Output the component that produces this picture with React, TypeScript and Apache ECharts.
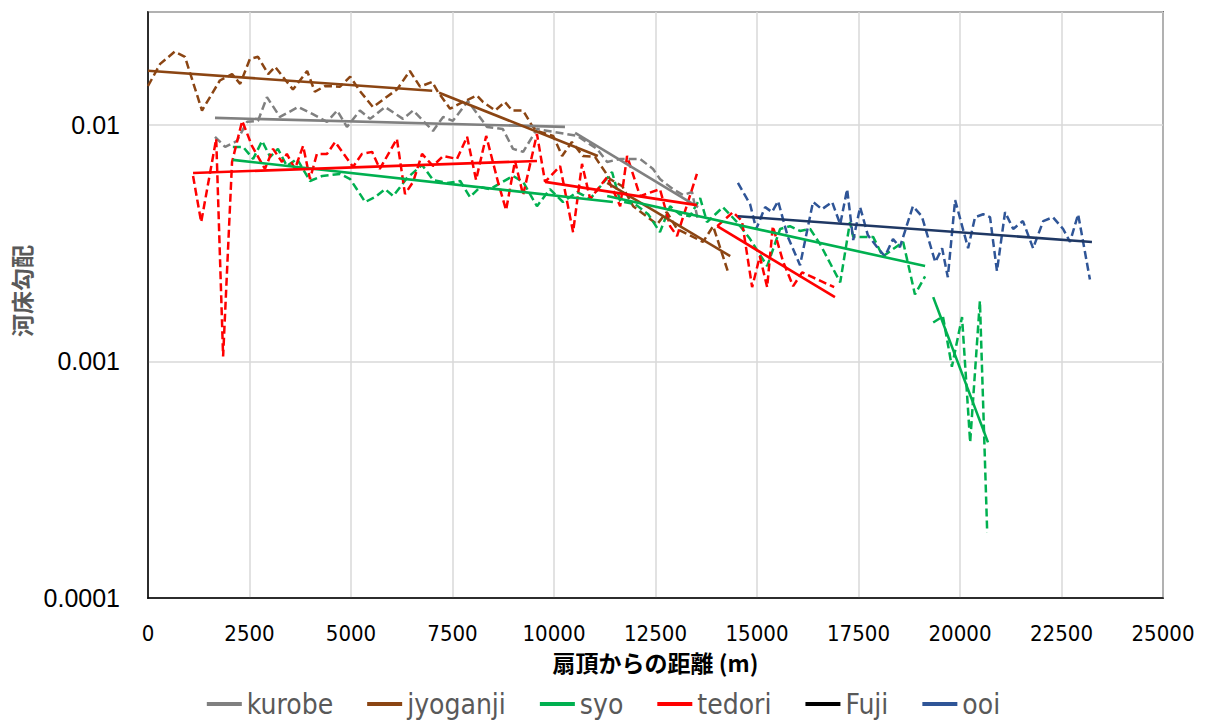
import React, { useEffect, useRef } from "react";
import * as echarts from "echarts";

// Longitudinal bed-slope profiles of alluvial fans (distance from fan apex, m)
const kurobeProfile: [number, number][] = [
  [1650, 0.0089], [1900, 0.00807], [2190, 0.00855], [2440, 0.0103], [2710, 0.0104],
  [2930, 0.0131], [3250, 0.0108], [3700, 0.0119], [4060, 0.0111], [4410, 0.0103],
  [4660, 0.0115], [4900, 0.0098], [5220, 0.0115], [5470, 0.0106], [5840, 0.0119],
  [6280, 0.0106], [6530, 0.0115], [7020, 0.00943], [7270, 0.0108], [7510, 0.0104],
  [7880, 0.0126], [8350, 0.0098], [8740, 0.0096], [8990, 0.00792], [9240, 0.00769],
  [9580, 0.0096], [10570, 0.00898], [11060, 0.00792], [11310, 0.00697], [11630, 0.00718],
  [12120, 0.00718], [12440, 0.00651], [12610, 0.0059], [12930, 0.00535], [13180, 0.00505],
  [13400, 0.0052], [13550, 0.00392],
];
const kurobeTrendA: [number, number][] = [[1650, 0.0107], [10270, 0.00981]];
const kurobeTrendB: [number, number][] = [[10520, 0.00925], [13550, 0.00449]];

const jyoganjiProfile: [number, number][] = [
  [0, 0.0146], [300, 0.0181], [660, 0.0204], [910, 0.0194], [1330, 0.0115],
  [1770, 0.0154], [2070, 0.0164], [2270, 0.0149], [2510, 0.019], [2710, 0.0194],
  [2960, 0.0164], [3130, 0.0176], [3570, 0.0141], [3920, 0.0169], [4110, 0.0138],
  [4360, 0.0146], [4730, 0.0145], [4980, 0.016], [5220, 0.0139], [5540, 0.0119],
  [6130, 0.0141], [6450, 0.0169], [6700, 0.0145], [7000, 0.0152], [7140, 0.0138],
  [7440, 0.0117], [7760, 0.0125], [8100, 0.0133], [8250, 0.0125], [8550, 0.0115],
  [8790, 0.0125], [8970, 0.0115], [9240, 0.0115], [9460, 0.0099], [9580, 0.00943],
  [9980, 0.00898], [10200, 0.00739], [10440, 0.00847], [10710, 0.00739], [11010, 0.00732],
  [11380, 0.0059], [11680, 0.00551], [11950, 0.00453], [12540, 0.0038], [12780, 0.00428],
  [13030, 0.00363], [13670, 0.0032], [13920, 0.00373], [14290, 0.00238],
];
const jyoganjiTrendA: [number, number][] = [[0, 0.01694], [7000, 0.01393]];
const jyoganjiTrendB: [number, number][] = [[7170, 0.01366], [11080, 0.00739]];
const jyoganjiTrendC: [number, number][] = [[11310, 0.00568], [14340, 0.00279]];

const syoProfile: [number, number][] = [
  [2090, 0.00807], [2340, 0.00807], [2590, 0.00718], [2810, 0.00855], [3010, 0.00732],
  [3200, 0.00792], [3420, 0.0067], [3670, 0.00718], [3990, 0.00579], [4290, 0.00608],
  [4730, 0.0062], [4980, 0.0059], [5350, 0.00472], [5590, 0.00495], [5840, 0.00535],
  [6040, 0.005], [6380, 0.00596], [6750, 0.00677], [7020, 0.00585], [7370, 0.00568],
  [7690, 0.00579], [7930, 0.00495], [8180, 0.00546], [8420, 0.00535], [8990, 0.00608],
  [9240, 0.00574], [9580, 0.00453], [9900, 0.00535], [10220, 0.00472], [10570, 0.0052],
  [10890, 0.00486], [11430, 0.00632], [11630, 0.00476], [12000, 0.00462], [12320, 0.00419],
  [12610, 0.00352], [12860, 0.00453], [13100, 0.00419], [13350, 0.00411], [13600, 0.0049],
  [13770, 0.00388], [14160, 0.00449], [14510, 0.00388], [14830, 0.00329], [15250, 0.00253],
  [15570, 0.00363], [15810, 0.00373], [16060, 0.00356], [16310, 0.00363], [16550, 0.00314],
  [17050, 0.00216], [17290, 0.00388], [17370, 0.00336], [17860, 0.00336], [18100, 0.00278],
  [18600, 0.0032], [18890, 0.00192], [19140, 0.00229],
];
const syoLowerProfile: [number, number][] = [
  [19340, 0.00146], [19580, 0.00155], [19800, 0.00095], [20050, 0.00154],
  [20250, 0.000455], [20490, 0.0018], [20670, 0.000189],
];
const syoTrendA: [number, number][] = [[2090, 0.00711], [11450, 0.00472]];
const syoTrendB: [number, number][] = [[11310, 0.005], [19140, 0.00253]];
const syoTrendC: [number, number][] = [[19340, 0.00187], [20690, 0.000455]];

const tedoriProfile: [number, number][] = [
  [1110, 0.00608], [1310, 0.00388], [1680, 0.00873], [1850, 0.00105], [2070, 0.00697],
  [2320, 0.0104], [2560, 0.00815], [2880, 0.00651], [3080, 0.00792], [3300, 0.00697],
  [3420, 0.00754], [3620, 0.00651], [3820, 0.00815], [3990, 0.0059], [4160, 0.00754],
  [4410, 0.00754], [4610, 0.00847], [5050, 0.00664], [5270, 0.00754], [5520, 0.00769],
  [5710, 0.00651], [6130, 0.00873], [6330, 0.0051], [6530, 0.00574], [6750, 0.00754],
  [7020, 0.0067], [7270, 0.00739], [7610, 0.00718], [7860, 0.0089], [8080, 0.00585],
  [8330, 0.00898], [8620, 0.00574], [8820, 0.00436], [9040, 0.00704], [9240, 0.00505],
  [9580, 0.00916], [9780, 0.00574], [10150, 0.0067], [10470, 0.00352], [10690, 0.00684],
  [10890, 0.00486], [11310, 0.00602], [11630, 0.00453], [11800, 0.00739], [12120, 0.005],
  [12610, 0.00535], [12860, 0.00373], [13030, 0.00339], [13520, 0.0062],
];
const tedoriLowerProfile: [number, number][] = [
  [14020, 0.00373], [14410, 0.00428], [14630, 0.00392], [14880, 0.00206], [15070, 0.00278],
  [15250, 0.00206], [15390, 0.00373], [15640, 0.00265], [15890, 0.00208], [16110, 0.00238],
  [16900, 0.00206],
];
const tedoriTrendA: [number, number][] = [[1110, 0.00626], [9580, 0.00704]];
const tedoriTrendB: [number, number][] = [[9780, 0.00574], [13520, 0.00458]];
const tedoriTrendC: [number, number][] = [[14020, 0.00373], [16920, 0.00187]];

const fujiProfile: [number, number][] = [];

const ooiProfile: [number, number][] = [
  [14530, 0.00568], [14830, 0.00462], [14980, 0.00363], [15200, 0.00449], [15370, 0.00428],
  [15520, 0.00476], [15760, 0.00336], [16060, 0.00255], [16380, 0.00472], [16600, 0.0044],
  [16850, 0.00472], [17050, 0.0038], [17220, 0.00535], [17370, 0.00326], [17540, 0.00449],
  [17730, 0.00342], [17980, 0.00301], [18150, 0.00278], [18350, 0.00329], [18520, 0.00304],
  [18840, 0.00453], [19060, 0.00411], [19390, 0.00263], [19560, 0.00301], [19700, 0.00227],
  [19880, 0.00481], [20200, 0.00301], [20370, 0.00407], [20570, 0.00419], [20740, 0.00407],
  [20910, 0.00241], [21110, 0.00428], [21310, 0.00363], [21550, 0.00392], [21800, 0.00301],
  [22050, 0.00392], [22290, 0.00407], [22540, 0.00363], [22710, 0.0032], [22910, 0.00419],
  [23200, 0.00222],
];
const ooiTrend: [number, number][] = [[14530, 0.00411], [23250, 0.0032]];

const rivers = ["kurobe", "jyoganji", "syo", "tedori", "Fuji", "ooi"];
const riverColors: Record<string, string> = {
  kurobe: "#808080",
  jyoganji: "#8B4513",
  syo: "#00B050",
  tedori: "#FF0000",
  Fuji: "#000000",
  ooi: "#2F5597",
};
const ooiTrendColor = "#1F3864";

const NARROW = "'Liberation Sans Narrow', 'DejaVu Sans Condensed', 'Liberation Sans', sans-serif";
const CJK = "'Noto Sans CJK JP', 'Noto Sans', sans-serif";

function profileSeries(name: string, data: [number, number][], color: string) {
  return {
    type: "line",
    name,
    data,
    symbol: "none",
    silent: true,
    z: 2,
    itemStyle: { color },
    lineStyle: { color, width: 2.5, type: [8, 4] },
  };
}

function trendSeries(name: string, data: [number, number][], color: string) {
  return {
    type: "line",
    name,
    data,
    symbol: "none",
    silent: true,
    z: 3,
    itemStyle: { color },
    lineStyle: { color, width: 2.6, type: "solid" },
  };
}

function decadeLabel(v: number): string {
  const k = Math.log10(v);
  const r = Math.round(k);
  if (Math.abs(k - r) > 1e-6) return "";
  return r < 0 ? Math.pow(10, r).toFixed(-r) : String(Math.pow(10, r));
}

export default function App() {
  const ref = useRef<HTMLDivElement>(null);

  useEffect(() => {
    if (!ref.current) return;
    const chart = echarts.init(ref.current, undefined, { renderer: "svg" });
    const c = riverColors;
    chart.setOption({
      animation: false,
      backgroundColor: "#ffffff",
      grid: {
        left: 148,
        right: 44,
        top: 12,
        bottom: 124,
        show: true,
        borderColor: "#000000",
        borderWidth: 1.5,
        containLabel: false,
      },
      legend: {
        data: rivers.map((r) => ({ name: r, itemStyle: { color: c[r] } })),
        icon: "rect",
        itemWidth: 35,
        itemHeight: 4,
        itemGap: 34,
        left: "center",
        top: 684,
        selectedMode: false,
        textStyle: { color: "#595959", fontSize: 28, fontFamily: NARROW, lineHeight: 30 },
      },
      xAxis: {
        type: "value",
        min: 0,
        max: 25000,
        interval: 2500,
        name: "扇頂からの距離 (m)",
        nameLocation: "middle",
        nameGap: 52,
        nameTextStyle: { fontFamily: CJK, fontSize: 23, fontWeight: "bold", color: "#000000" },
        axisLine: { show: true, lineStyle: { color: "#000000", width: 1.5 } },
        axisTick: { show: false },
        axisLabel: {
          margin: 24,
          fontSize: 22,
          fontFamily: NARROW,
          color: "#000000",
          formatter: (v: number) => String(v),
        },
        splitLine: { show: true, lineStyle: { color: "#D9D9D9", width: 1.5 } },
      },
      yAxis: {
        type: "log",
        logBase: 10,
        min: 0.0001,
        max: 0.03,
        name: "河床勾配",
        nameLocation: "middle",
        nameRotate: 90,
        nameGap: 92,
        nameTextStyle: {
          fontFamily: CJK,
          fontSize: 23,
          fontWeight: "bold",
          color: "#595959",
          padding: [0, 0, 0, 28],
        },
        axisLine: { show: true, lineStyle: { color: "#000000", width: 1.5 } },
        axisTick: { show: false },
        axisLabel: {
          margin: 28,
          fontSize: 25,
          fontFamily: "'Liberation Sans', sans-serif",
          color: "#000000",
          formatter: decadeLabel,
        },
        splitLine: { show: true, lineStyle: { color: "#D9D9D9", width: 1.5 } },
      },
      series: [
        profileSeries("kurobe", kurobeProfile, c.kurobe),
        profileSeries("jyoganji", jyoganjiProfile, c.jyoganji),
        profileSeries("syo", syoProfile, c.syo),
        profileSeries("syo", syoLowerProfile, c.syo),
        profileSeries("tedori", tedoriProfile, c.tedori),
        profileSeries("tedori", tedoriLowerProfile, c.tedori),
        profileSeries("Fuji", fujiProfile, c.Fuji),
        profileSeries("ooi", ooiProfile, c.ooi),
        trendSeries("kurobe", kurobeTrendA, c.kurobe),
        trendSeries("kurobe", kurobeTrendB, c.kurobe),
        trendSeries("jyoganji", jyoganjiTrendA, c.jyoganji),
        trendSeries("jyoganji", jyoganjiTrendB, c.jyoganji),
        trendSeries("jyoganji", jyoganjiTrendC, c.jyoganji),
        trendSeries("syo", syoTrendA, c.syo),
        trendSeries("syo", syoTrendB, c.syo),
        trendSeries("syo", syoTrendC, c.syo),
        trendSeries("tedori", tedoriTrendA, c.tedori),
        trendSeries("tedori", tedoriTrendB, c.tedori),
        trendSeries("tedori", tedoriTrendC, c.tedori),
        trendSeries("ooi", ooiTrend, ooiTrendColor),
      ],
    });
    return () => chart.dispose();
  }, []);

  return (
    <div
      ref={ref}
      style={{ position: "fixed", left: 0, top: 0, width: 1207, height: 722, background: "#ffffff" }}
    />
  );
}
